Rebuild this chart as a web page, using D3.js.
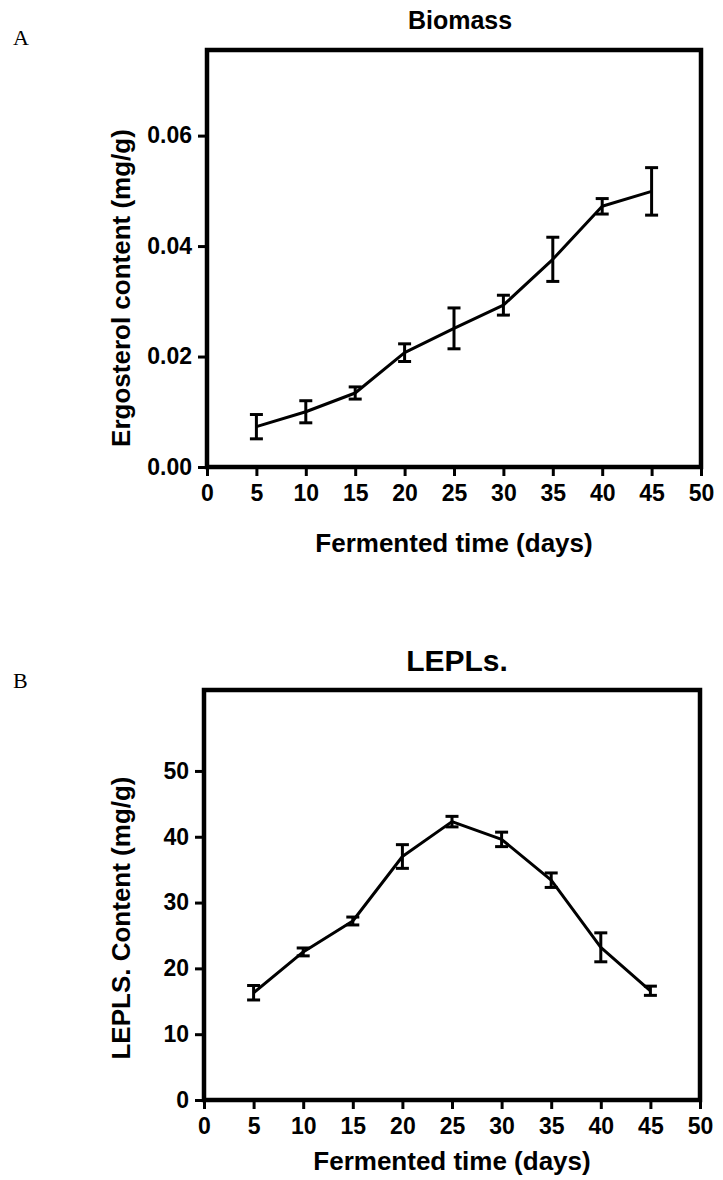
<!DOCTYPE html>
<html>
<head>
<meta charset="utf-8">
<script src="https://cdn.jsdelivr.net/npm/d3@7"></script>
<style>
  body { margin: 0; background: #fff; }
  svg { display: block; }
  text { font-family: "Liberation Sans", Arial, Helvetica, sans-serif; font-weight: bold; fill: #000; }
</style>
</head>
<body>
<svg id="chart" width="723" height="1180"></svg>
<script>
// ---- data ----
const days = [5, 10, 15, 20, 25, 30, 35, 40, 45];
const ergosterol = [0.0073, 0.0100, 0.0134, 0.0207, 0.0251, 0.0293, 0.0376, 0.0472, 0.0499];
const ergosterolErr = [0.0022, 0.0020, 0.0011, 0.0016, 0.0037, 0.0018, 0.0040, 0.0014, 0.0043];
const lepls = [16.3, 22.5, 27.2, 37.0, 42.3, 39.6, 33.4, 23.2, 16.6];
const leplsErr = [1.1, 0.6, 0.6, 1.8, 0.8, 1.1, 1.1, 2.2, 0.7];
const xTicks = [0, 5, 10, 15, 20, 25, 30, 35, 40, 45, 50];
const yTicksA = [0, 0.02, 0.04, 0.06];
const yTicksB = [0, 10, 20, 30, 40, 50];

const svg = d3.select("#chart");
svg.append("rect").attr("width", 723).attr("height", 1180).attr("fill", "#fff");

function panel(cfg) {
  const g = svg.append("g");
  const x = d3.scaleLinear().domain([0, 50]).range([cfg.left, cfg.right]);
  const y = d3.scaleLinear().domain(cfg.yDomain).range([cfg.bottom, cfg.top]);

  // frame
  g.append("rect")
    .attr("x", cfg.left).attr("y", cfg.top)
    .attr("width", cfg.right - cfg.left).attr("height", cfg.bottom - cfg.top)
    .attr("fill", "none").attr("stroke", "#000").attr("stroke-width", 4.5);

  // x axis
  const xa = g.append("g").attr("transform", `translate(0,${cfg.bottom})`)
    .call(d3.axisBottom(x).tickValues(xTicks).tickSize(9).tickPadding(9).tickFormat(d3.format("d")));
  xa.select(".domain").remove();
  xa.selectAll(".tick line").attr("stroke", "#000").attr("stroke-width", 3);
  xa.selectAll(".tick text").style("font-size", "23px").attr("dy", "0.71em");

  // y axis
  const ya = g.append("g").attr("transform", `translate(${cfg.left},0)`)
    .call(d3.axisLeft(y).tickValues(cfg.yTicks).tickSize(9).tickPadding(6).tickFormat(cfg.yFormat));
  ya.select(".domain").remove();
  ya.selectAll(".tick line").attr("stroke", "#000").attr("stroke-width", 3);
  ya.selectAll(".tick text").style("font-size", "23px");

  // line
  const pts = days.map((d, i) => ({ x: d, y: cfg.values[i], e: cfg.errs[i] }));
  g.append("path").datum(pts)
    .attr("fill", "none").attr("stroke", "#000").attr("stroke-width", 3)
    .attr("stroke-linejoin", "round")
    .attr("d", d3.line().x(d => x(d.x)).y(d => y(d.y)));

  // error bars
  const eb = g.append("g").attr("stroke", "#000").attr("stroke-width", 3).attr("fill", "none");
  const capHalf = 6.5;
  pts.forEach(p => {
    const cx = x(p.x), y1 = y(p.y - p.e), y2 = y(p.y + p.e);
    eb.append("line").attr("x1", cx).attr("x2", cx).attr("y1", y1).attr("y2", y2);
    eb.append("line").attr("x1", cx - capHalf).attr("x2", cx + capHalf).attr("y1", y1).attr("y2", y1);
    eb.append("line").attr("x1", cx - capHalf).attr("x2", cx + capHalf).attr("y1", y2).attr("y2", y2);
  });

  // titles
  g.append("text").attr("x", cfg.titleX).attr("y", cfg.titleY)
    .attr("text-anchor", "middle").style("font-size", cfg.titleSize + "px").text(cfg.title);
  g.append("text").attr("x", (cfg.left + cfg.right) / 2).attr("y", cfg.xTitleY)
    .attr("text-anchor", "middle").style("font-size", "26px").text("Fermented time (days)");
  g.append("text")
    .attr("transform", `translate(${cfg.yTitleX},${cfg.yTitleY}) rotate(-90)`)
    .attr("text-anchor", "middle").style("font-size", "26px").text(cfg.yTitle);

  // panel letter
  g.append("text").attr("x", 13).attr("y", cfg.letterY)
    .style("font-family", "'Liberation Serif', 'Times New Roman', serif")
    .style("font-weight", "normal").style("font-size", "22px").text(cfg.letter);
}

panel({
  left: 207, right: 701, top: 50, bottom: 467,
  yDomain: [0, 0.0755], yTicks: yTicksA, yFormat: d3.format(".2f"),
  values: ergosterol, errs: ergosterolErr,
  title: "Biomass", titleX: 460, titleY: 29, titleSize: 25,
  xTitleY: 552, yTitleX: 130, yTitleY: 288,
  yTitle: "Ergosterol content (mg/g)",
  letter: "A", letterY: 45
});

panel({
  left: 204, right: 700, top: 690, bottom: 1100,
  yDomain: [0, 62.3], yTicks: yTicksB, yFormat: d3.format("d"),
  values: lepls, errs: leplsErr,
  title: "LEPLs.", titleX: 457, titleY: 671, titleSize: 30,
  xTitleY: 1170, yTitleX: 130, yTitleY: 918,
  yTitle: "LEPLS. Content (mg/g)",
  letter: "B", letterY: 688
});
</script>
</body>
</html>
